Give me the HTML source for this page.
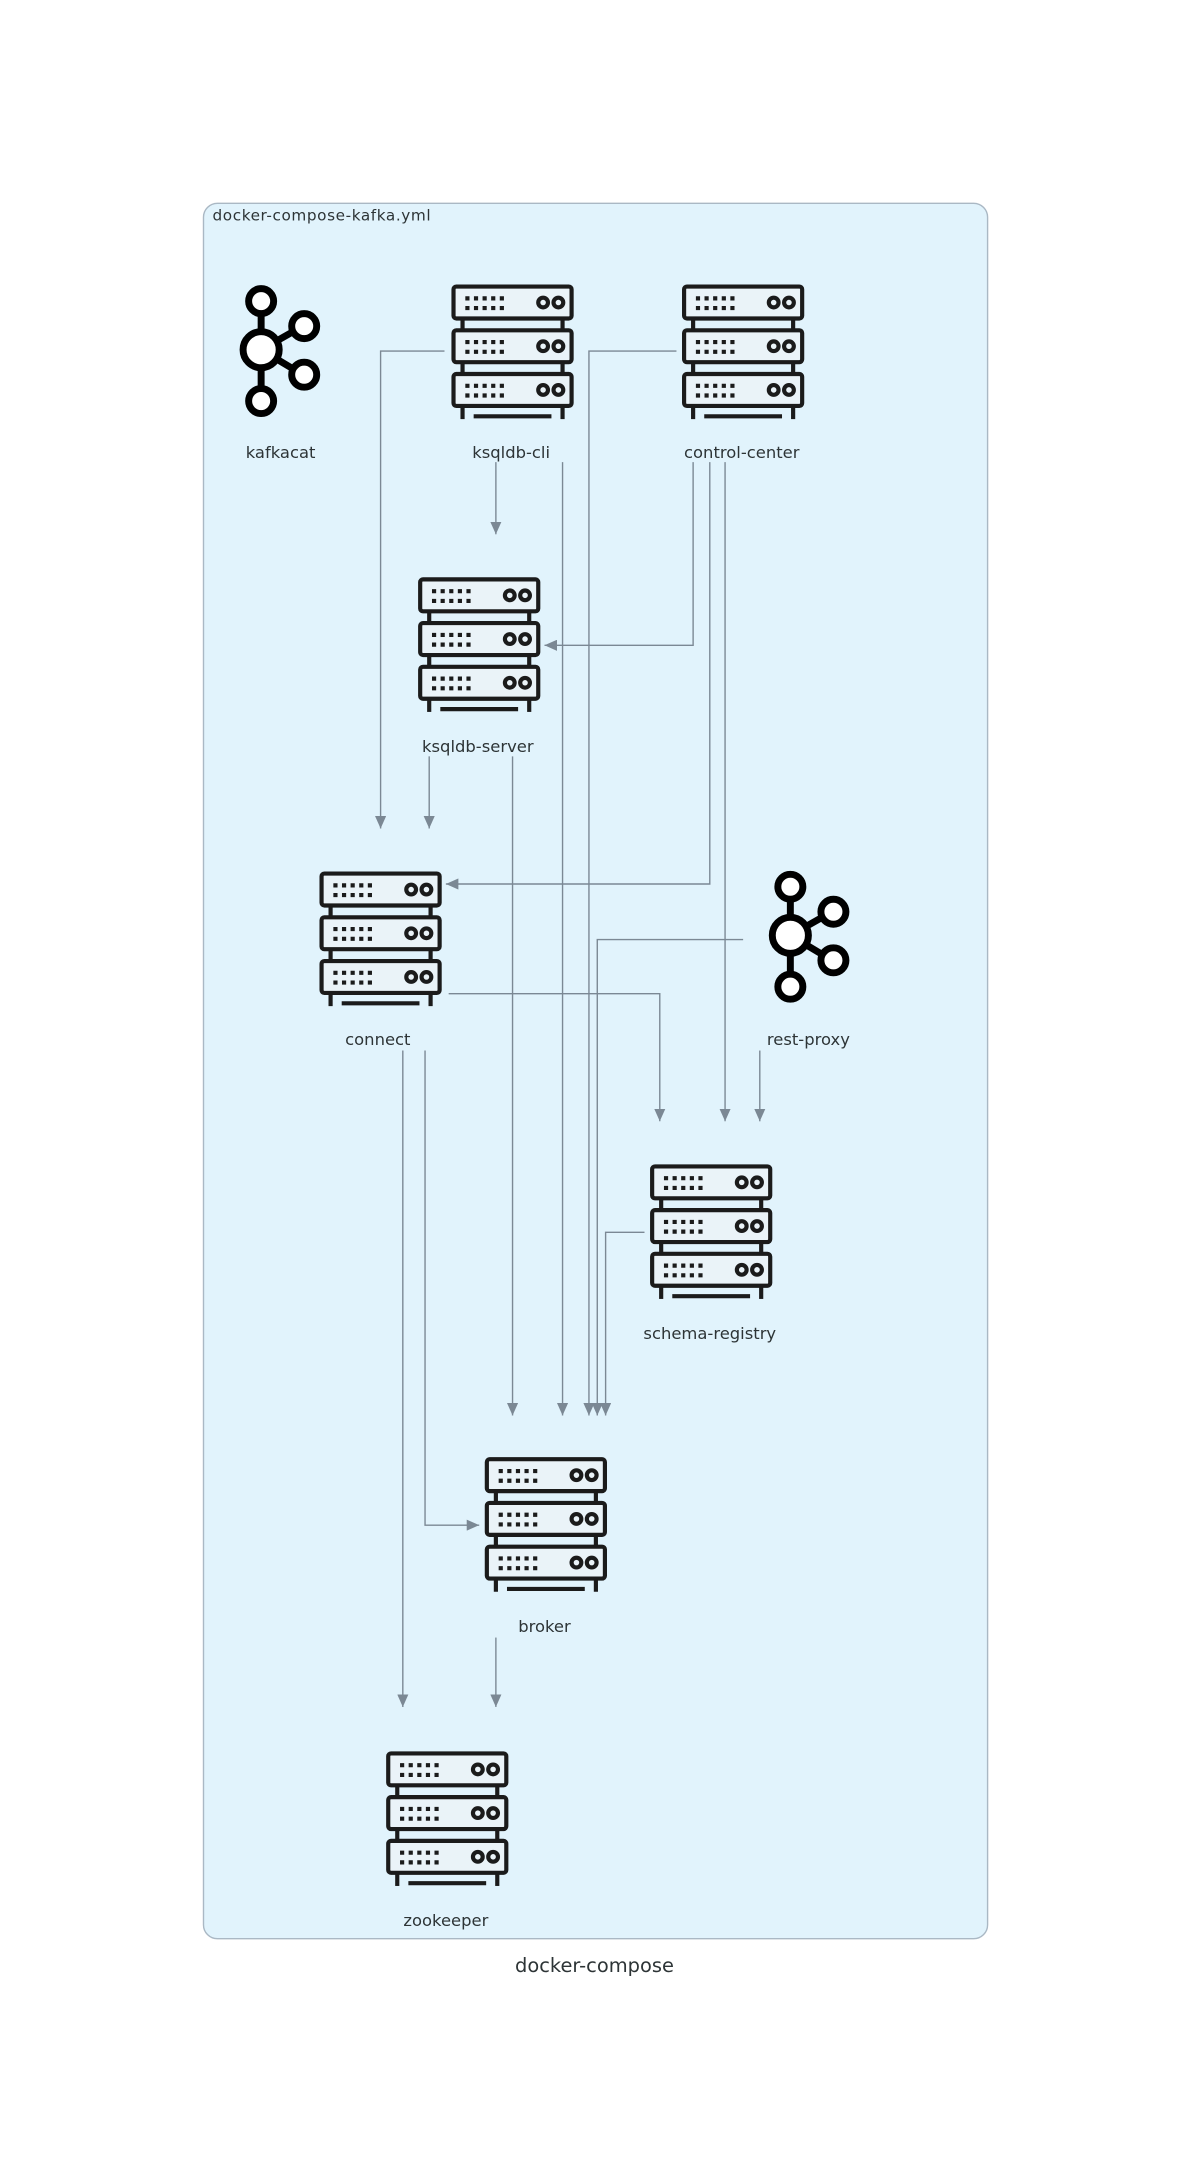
<!DOCTYPE html>
<html><head><meta charset="utf-8"><style>
html,body{margin:0;padding:0;background:#fff;}
svg{display:block;}
text{font-family:"DejaVu Sans","Liberation Sans",sans-serif;fill:#2d3436;}
</style></head><body>
<svg width="1189" height="2176" viewBox="0 0 856 1568" preserveAspectRatio="none" xmlns="http://www.w3.org/2000/svg">
<defs>
<g id="srv" fill="none" stroke="#1b1b1b" stroke-width="3">
 <rect x="1.5" y="1.5" width="85" height="23" rx="2" fill="#eaf3f8"/>
 <rect x="1.5" y="33" width="85" height="23" rx="2" fill="#eaf3f8"/>
 <rect x="1.5" y="64.5" width="85" height="23" rx="2" fill="#eaf3f8"/>
 <line x1="8" y1="25" x2="8" y2="33"/><line x1="80" y1="25" x2="80" y2="33"/>
 <line x1="8" y1="56.5" x2="8" y2="64.5"/><line x1="80" y1="56.5" x2="80" y2="64.5"/>
 <line x1="8" y1="88" x2="8" y2="97"/><line x1="80" y1="88" x2="80" y2="97"/>
 <line x1="16" y1="95" x2="72" y2="95"/>
 <circle cx="66" cy="13" r="3.5"/><circle cx="77" cy="13" r="3.5"/>
 <circle cx="66" cy="44.5" r="3.5"/><circle cx="77" cy="44.5" r="3.5"/>
 <circle cx="66" cy="76" r="3.5"/><circle cx="77" cy="76" r="3.5"/>
 <g stroke-dasharray="3 3.2" stroke-width="3">
  <line x1="10" y1="10" x2="40" y2="10"/><line x1="10" y1="17" x2="40" y2="17"/>
  <line x1="10" y1="41.5" x2="40" y2="41.5"/><line x1="10" y1="48.5" x2="40" y2="48.5"/>
  <line x1="10" y1="73" x2="40" y2="73"/><line x1="10" y1="80" x2="40" y2="80"/>
 </g>
</g>
<g id="kafka" fill="none" stroke="#000" stroke-width="5">
 <line x1="0" y1="11" x2="0" y2="73"/>
 <line x1="0" y1="35" x2="30" y2="18"/><line x1="0" y1="35" x2="30" y2="53"/>
 <circle cx="0" cy="0" r="9" fill="#fff"/>
 <circle cx="0" cy="35" r="13" fill="#fff"/>
 <circle cx="31" cy="18" r="9" fill="#fff"/>
 <circle cx="31" cy="53" r="9" fill="#fff"/>
 <circle cx="0" cy="72" r="9" fill="#fff"/>
</g>
<marker id="ar" markerWidth="10" markerHeight="8" refX="9" refY="4" orient="auto" markerUnits="userSpaceOnUse">
 <path d="M0,0 L9,4 L0,8 z" fill="#7b8894"/>
</marker>
</defs>
<rect x="146.5" y="146.5" width="564.5" height="1250.5" rx="10" fill="#e1f3fc" stroke="#aab8c4" stroke-width="1"/>
<text x="153" y="159" font-size="11" textLength="157">docker-compose-kafka.yml</text>
<text x="428" y="1421" font-size="14" text-anchor="middle">docker-compose</text>

<g fill="none" stroke="#7b8894" stroke-width="1" marker-end="url(#ar)">
 <polyline points="320,253 274,253 274,597"/>
 <polyline points="487,253 424,253 424,1020"/>
 <polyline points="357,333 357,385"/>
 <polyline points="405,333 405,1020"/>
 <polyline points="499,333 499,465 392,465"/>
 <polyline points="511,333 511,637 321,637"/>
 <polyline points="522,333 522,808"/>
 <polyline points="309,545 309,597"/>
 <polyline points="369,545 369,1020"/>
 <polyline points="535,677 430,677 430,1020"/>
 <polyline points="547,757 547,808"/>
 <polyline points="323,716 475,716 475,808"/>
 <polyline points="290,757 290,1230"/>
 <polyline points="306,757 306,1099 345,1099"/>
 <polyline points="464,888 436,888 436,1020"/>
 <polyline points="357,1180 357,1230"/>
</g>

<use href="#kafka" x="188" y="217"/>
<use href="#srv" x="325" y="205"/>
<use href="#srv" x="491" y="205"/>
<use href="#srv" x="301" y="416"/>
<use href="#srv" x="230" y="628"/>
<use href="#kafka" x="569" y="639"/>
<use href="#srv" x="468" y="839"/>
<use href="#srv" x="349" y="1050"/>
<use href="#srv" x="278" y="1262"/>

<g font-size="11.8" text-anchor="middle">
 <text x="202" y="330">kafkacat</text>
 <text x="368" y="330">ksqldb-cli</text>
 <text x="534" y="330">control-center</text>
 <text x="344" y="542">ksqldb-server</text>
 <text x="272" y="753">connect</text>
 <text x="582" y="753">rest-proxy</text>
 <text x="511" y="965">schema-registry</text>
 <text x="392" y="1176">broker</text>
 <text x="321" y="1388">zookeeper</text>
</g>
</svg>
</body></html>
